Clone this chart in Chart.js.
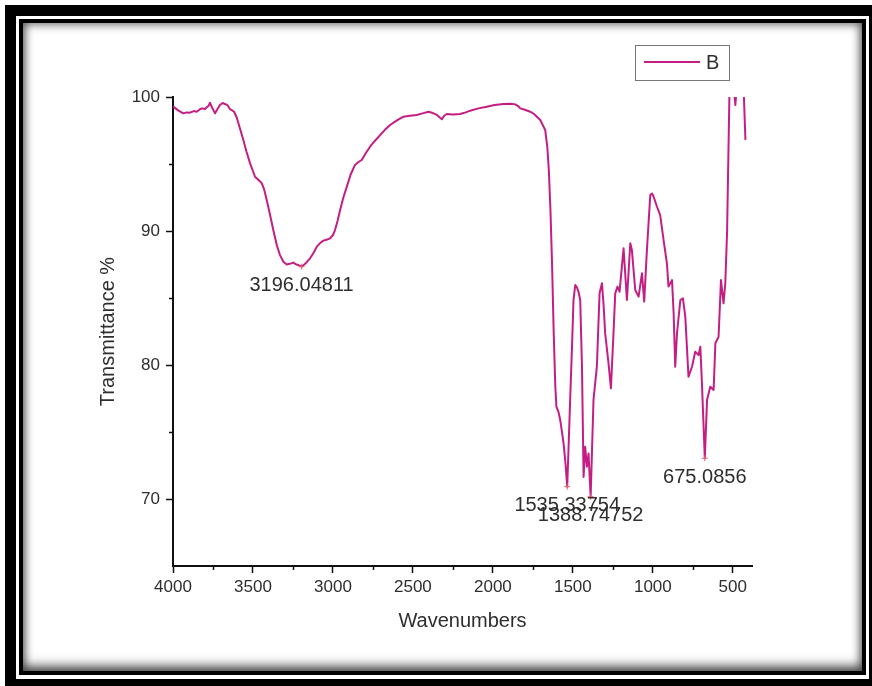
<!DOCTYPE html>
<html>
<head>
<meta charset="utf-8">
<script src="https://cdn.jsdelivr.net/npm/chart.js@4/dist/chart.umd.min.js"></script>
<style>
  html, body { margin: 0; padding: 0; background: #fff; width: 872px; height: 686px; overflow: hidden; }
  #outer { position: absolute; left: 5px; top: 5px; width: 900px; height: 720px; background: #000; }
  #band { position: absolute; left: 16px; top: 16px; width: 853px; height: 663px; background: #fff; }
  #panel {
    position: absolute; left: 19px; top: 19px; width: 847px; height: 656px;
    box-sizing: border-box; border: 4px solid #000; background: #fff;
    box-shadow: inset 0 0 8px 2px rgba(0,0,0,.55), inset 0 -8px 12px -2px rgba(0,0,0,.45);
  }
  #c { position: absolute; left: 0; top: 0; }
</style>
</head>
<body>
<div id="outer"></div>
<div id="band"></div>
<div id="panel"></div>
<canvas id="c" width="872" height="686"></canvas>
<script>
// FTIR spectrum, sample B
const wavenumbers = [
  4000, 3968, 3936, 3915, 3894, 3870, 3852, 3835, 3820, 3800, 3789, 3777, 3769, 3755, 3737, 3722,
  3706, 3690, 3675, 3660, 3643, 3630, 3618, 3601, 3580, 3560, 3540, 3518, 3487, 3465, 3445, 3430,
  3414, 3395, 3373, 3350, 3331, 3310, 3289, 3270, 3247, 3230, 3216, 3196.04811, 3170, 3143, 3120,
  3101, 3080, 3060, 3040, 3018, 3000, 2987, 2970, 2955, 2935, 2913, 2890, 2862, 2840, 2820, 2795,
  2768, 2740, 2705, 2675, 2643, 2600, 2559, 2520, 2476, 2440, 2403, 2375, 2350, 2330, 2319, 2305,
  2288, 2250, 2205, 2170, 2142, 2090, 2038, 1990, 1934, 1890, 1860, 1840, 1829, 1800, 1767, 1745,
  1725, 1704, 1690, 1673, 1660, 1650, 1640, 1630, 1620, 1610, 1603, 1590, 1579, 1558, 1545,
  1535.33754, 1525, 1517, 1505, 1496, 1485, 1475, 1465, 1454, 1443, 1433, 1423, 1412, 1402,
  1388.74752, 1371, 1350, 1333, 1318, 1308, 1298, 1277, 1262, 1246, 1235, 1221, 1208, 1183, 1162,
  1141, 1131, 1110, 1089, 1068, 1054, 1037, 1016, 1005, 995, 974, 954, 933, 912, 902, 880, 870, 860,
  849, 828, 812, 797, 777, 755, 735, 714, 703, 693, 675.0856, 661, 641, 620, 609, 589, 574, 558,
  547, 536, 520, 505, 492, 484, 474, 455, 435, 421
];
const transmittance = [
  99.3, 99.0, 98.78, 98.85, 98.83, 98.95, 98.9, 99.05, 99.15, 99.1, 99.23, 99.35, 99.57, 99.2, 98.78, 99.1,
  99.4, 99.55, 99.48, 99.4, 99.08, 99.0, 98.9, 98.45, 97.6, 96.79, 95.9, 95.05, 94.05, 93.8, 93.56, 93.1,
  92.31, 91.3, 90.07, 88.9, 88.2, 87.7, 87.5, 87.55, 87.64, 87.5, 87.46, 87.34, 87.6, 87.96, 88.4,
  88.83, 89.1, 89.28, 89.35, 89.45, 89.7, 90.07, 90.8, 91.57, 92.5, 93.31, 94.2, 94.93, 95.15, 95.3, 95.8,
  96.29, 96.7, 97.16, 97.55, 97.91, 98.25, 98.53, 98.6, 98.66, 98.78, 98.9, 98.8, 98.66, 98.45, 98.34, 98.6,
  98.73, 98.7, 98.73, 98.85, 98.98, 99.15, 99.28, 99.4, 99.48, 99.5, 99.45, 99.3, 99.15, 99.05, 98.9, 98.75,
  98.53, 98.28, 97.95, 97.54, 96.3, 94.5, 91.5, 87.5, 82.5, 78.5, 76.9, 76.5, 75.9, 74.15, 72.5,
  70.92, 74.5, 77.39, 81.5, 84.85, 85.97, 85.8, 85.47, 84.85, 79.87, 71.64, 73.9, 72.41, 73.4,
  70.17, 77.39, 79.87, 85.35, 86.1, 84.5, 82.36, 80.12, 78.26, 82.36, 85.35, 85.85, 85.47, 88.71, 84.85,
  89.08, 88.58, 85.6, 85.1, 86.84, 84.73, 88.58, 92.69, 92.8, 92.56, 91.81, 91.19, 89.33, 87.59, 85.85, 86.34, 83.86, 79.87,
  82.36, 84.85, 84.97, 83.61, 79.12, 79.87, 80.99, 80.75, 81.37, 78.64, 73.04, 77.39, 78.38, 78.14, 81.62, 82.11, 86.34, 84.6,
  86.1, 89.83, 101, 102, 100.5, 99.4, 101, 102, 101.5, 96.8
];

// Labelled absorption peaks
const peakLabels = ['3196.04811', '1535.33754', '1388.74752', '675.0856'];
const peakWavenumbers = peakLabels.map(Number);
const peakTransmittance = [87.34, 70.92, 70.17, 73.04];

// Axis ticks
const xMajorTicks = [4000, 3500, 3000, 2500, 2000, 1500, 1000, 500];
const xMinorTicks = [3750, 3250, 2750, 2250, 1750, 1250, 750];
const yMajorTicks = [70, 80, 90, 100];
const yMinorTicks = [75, 85, 95];

const LINE_COLOR = '#c41e84';
const TEXT_COLOR = '#2e2e2e';
const AXIS_COLOR = '#111';
const FONT = '"Liberation Sans", Arial, sans-serif';

// Short minor tick marks on both axes
const minorTickPlugin = {
  id: 'minorTicks',
  afterDraw(chart) {
    const { ctx, chartArea, scales } = chart;
    ctx.save();
    ctx.strokeStyle = AXIS_COLOR;
    ctx.lineWidth = 1.5;
    ctx.beginPath();
    xMinorTicks.forEach(v => {
      const px = Math.round(scales.x.getPixelForValue(v)) + 0.5;
      ctx.moveTo(px, chartArea.bottom);
      ctx.lineTo(px, chartArea.bottom + 4);
    });
    yMinorTicks.forEach(v => {
      const py = Math.round(scales.y.getPixelForValue(v)) + 0.5;
      ctx.moveTo(chartArea.left, py);
      ctx.lineTo(chartArea.left - 4, py);
    });
    ctx.stroke();
    ctx.restore();
  }
};

// Wavenumber labels under each marked peak
const peakLabelPlugin = {
  id: 'peakLabels',
  afterDatasetsDraw(chart) {
    const { ctx, scales } = chart;
    ctx.save();
    ctx.font = '20px ' + FONT;
    ctx.fillStyle = TEXT_COLOR;
    ctx.textAlign = 'center';
    ctx.textBaseline = 'middle';
    peakLabels.forEach((txt, i) => {
      const px = scales.x.getPixelForValue(peakWavenumbers[i]);
      const py = scales.y.getPixelForValue(peakTransmittance[i]);
      ctx.fillText(txt, px, py + 19);
    });
    ctx.restore();
  }
};

// Boxed legend in the upper right
const legendBoxPlugin = {
  id: 'legendBox',
  afterDraw(chart) {
    const ds = chart.data.datasets[0];
    const { ctx } = chart;
    ctx.save();
    ctx.strokeStyle = '#777';
    ctx.lineWidth = 1;
    ctx.strokeRect(635.5, 45.5, 94, 35);
    ctx.strokeStyle = ds.borderColor;
    ctx.lineWidth = 2;
    ctx.beginPath();
    ctx.moveTo(644, 62);
    ctx.lineTo(700, 62);
    ctx.stroke();
    ctx.font = '20px ' + FONT;
    ctx.fillStyle = TEXT_COLOR;
    ctx.textBaseline = 'middle';
    ctx.fillText(ds.label, 706, 63);
    ctx.restore();
  }
};

const plainTick = v => String(v);

new Chart(document.getElementById('c'), {
  type: 'line',
  data: {
    datasets: [
      {
        label: 'B',
        data: wavenumbers.map((w, i) => ({ x: w, y: transmittance[i] })),
        borderColor: LINE_COLOR,
        borderWidth: 2,
        pointRadius: 0,
        tension: 0,
        borderJoinStyle: 'round',
        order: 2
      },
      {
        label: 'peaks',
        data: peakWavenumbers.map((w, i) => ({ x: w, y: peakTransmittance[i] })),
        showLine: false,
        pointStyle: 'cross',
        pointRadius: 3,
        borderColor: '#e8606a',
        borderWidth: 1,
        order: 1
      }
    ]
  },
  options: {
    responsive: false,
    animation: false,
    devicePixelRatio: 1,
    layout: { padding: { left: 90, top: 97, right: 120, bottom: 50 } },
    plugins: { legend: { display: false }, tooltip: { enabled: false } },
    scales: {
      x: {
        type: 'linear',
        reverse: true,
        min: 380,
        max: 4000,
        afterBuildTicks: s => { s.ticks = xMajorTicks.map(v => ({ value: v })); },
        afterFit: s => { s.height = 70; },
        ticks: { callback: plainTick, color: TEXT_COLOR, font: { family: FONT, size: 17 }, padding: 4, maxRotation: 0, autoSkip: false },
        grid: { drawOnChartArea: false, tickLength: 7, tickWidth: 1.5, tickColor: AXIS_COLOR },
        border: { display: true, color: AXIS_COLOR, width: 2 },
        title: { display: true, text: 'Wavenumbers', color: TEXT_COLOR, font: { family: FONT, size: 20 }, padding: { top: 0, bottom: 3 } }
      },
      y: {
        type: 'linear',
        min: 65,
        max: 100,
        afterBuildTicks: s => { s.ticks = yMajorTicks.map(v => ({ value: v })); },
        afterFit: s => { s.width = 83; },
        ticks: { callback: plainTick, color: TEXT_COLOR, font: { family: FONT, size: 17 }, padding: 6 },
        grid: { drawOnChartArea: false, tickLength: 7, tickWidth: 1.5, tickColor: AXIS_COLOR },
        border: { display: true, color: AXIS_COLOR, width: 2 },
        title: { display: true, text: 'Transmittance %', color: TEXT_COLOR, font: { family: FONT, size: 20 }, padding: { top: 6, bottom: 0 } }
      }
    }
  },
  plugins: [minorTickPlugin, peakLabelPlugin, legendBoxPlugin]
});
</script>
</body>
</html>
